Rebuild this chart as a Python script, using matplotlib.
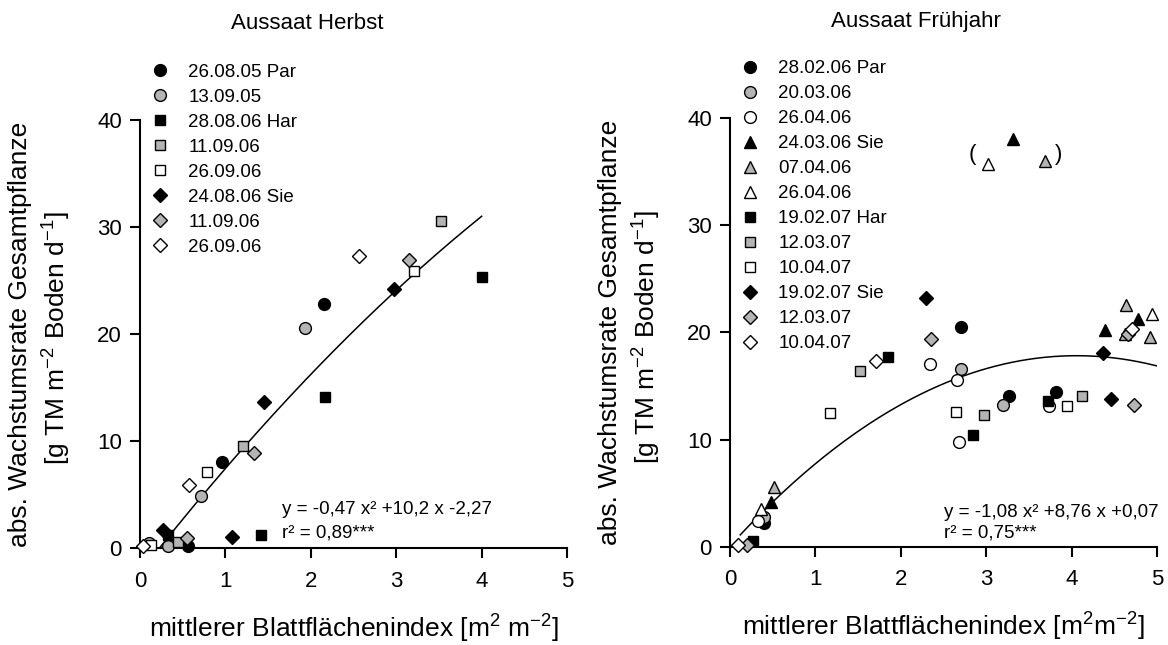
import numpy as np
import matplotlib
matplotlib.use("Agg")
import matplotlib.pyplot as plt

plt.rcParams['font.family'] = ['Liberation Sans', 'DejaVu Sans']
plt.rcParams['mathtext.fontset'] = 'custom'
plt.rcParams['mathtext.rm'] = 'Liberation Sans'
plt.rcParams['mathtext.it'] = 'Liberation Sans:italic'

GRAY = '#b4b4b4'

# ---- Aussaat Herbst ----
herbst_labels = ['26.08.05 Par', '13.09.05', '28.08.06 Har', '11.09.06',
                 '26.09.06', '24.08.06 Sie', '11.09.06', '26.09.06']
herbst_marker = ['o', 'o', 's', 's', 's', 'D', 'D', 'D']
herbst_fill = ['black', GRAY, 'black', GRAY, 'white', 'black', GRAY, 'white']
herbst_x = [
    [0.56, 0.96, 2.15],
    [0.10, 0.33, 0.71, 1.93],
    [0.33, 1.42, 2.17, 4.00],
    [0.45, 1.20, 3.52],
    [0.13, 0.78, 3.21],
    [0.27, 1.08, 1.45, 2.97],
    [0.55, 1.33, 3.15],
    [0.04, 0.57, 2.56],
]
herbst_y = [
    [0.2, 8.1, 22.8],
    [0.45, 0.2, 4.9, 20.6],
    [1.2, 1.2, 14.1, 25.3],
    [0.6, 9.6, 30.6],
    [0.3, 7.1, 25.9],
    [1.7, 1.1, 13.7, 24.2],
    [1.0, 8.9, 26.9],
    [0.2, 5.9, 27.3],
]
herbst_coef = [-0.47, 10.2, -2.27]
herbst_range = [0.23, 4.0]

# ---- Aussaat Frühjahr ----
fj_labels = ['28.02.06 Par', '20.03.06', '26.04.06', '24.03.06 Sie', '07.04.06',
             '26.04.06', '19.02.07 Har', '12.03.07', '10.04.07', '19.02.07 Sie',
             '12.03.07', '10.04.07']
fj_marker = ['o', 'o', 'o', '^', '^', '^', 's', 's', 's', 'D', 'D', 'D']
fj_fill = ['black', GRAY, 'white'] * 4
fj_x = [
    [0.40, 2.70, 3.26, 3.82],
    [0.40, 2.70, 3.20],
    [0.33, 2.34, 2.66, 2.68, 3.73],
    [0.48, 3.31, 4.39, 4.78],
    [0.51, 3.69, 4.62, 4.64, 4.91],
    [0.36, 3.02, 4.94],
    [0.27, 1.85, 2.84, 3.72],
    [1.52, 2.97, 4.12],
    [1.17, 2.64, 3.94],
    [2.29, 4.37, 4.46],
    [0.20, 2.35, 4.66, 4.73],
    [0.09, 1.71, 4.71],
]
fj_y = [
    [2.2, 20.5, 14.1, 14.4],
    [2.8, 16.6, 13.2],
    [2.4, 17.1, 15.6, 9.8, 13.1],
    [4.2, 38.1, 20.2, 21.3],
    [5.6, 36.0, 19.9, 22.6, 19.6],
    [3.5, 35.7, 21.7],
    [0.5, 17.7, 10.4, 13.6],
    [16.4, 12.3, 14.1],
    [12.5, 12.6, 13.1],
    [23.2, 18.1, 13.8],
    [0.2, 19.4, 19.9, 13.2],
    [0.2, 17.3, 20.3],
]
fj_coef = [-1.08, 8.76, 0.07]
fj_range = [0.12, 5.0]

msize = {'o': 8.5, 's': 7.5, 'D': 7.0, '^': 8.5}


def draw_panel(ax, title, labels, markers, fills, xs, ys, coef, xr, eq, r2, eqpos, xlab, legtop):
    for lab, m, f, x, y in zip(labels, markers, fills, xs, ys):
        ax.plot(x, y, linestyle='none', marker=m, ms=msize[m], mfc=f, mec='black',
                mew=1.0, label=lab, clip_on=False, zorder=3)
    xx = np.linspace(xr[0], xr[1], 200)
    ax.plot(xx, np.polyval(coef, xx), color='black', lw=1.1, zorder=2)

    ax.set_xlim(0, 5)
    ax.set_ylim(0, 40)
    ax.set_xticks(range(6))
    ax.set_yticks(range(0, 41, 10))
    for s in ['top', 'right']:
        ax.spines[s].set_visible(False)
    for s in ['left', 'bottom']:
        ax.spines[s].set_linewidth(1.5)
    ax.tick_params(direction='out', length=7, width=1.5, labelsize=16)
    ax.tick_params(axis='x', pad=9)
    ax.tick_params(axis='y', pad=6)

    ax.set_xlabel(xlab, fontsize=19, labelpad=15)
    ax.text(-0.281, 0.5, 'abs. Wachstumsrate Gesamtpflanze', rotation=90,
            fontsize=19, ha='center', va='center', transform=ax.transAxes)
    ax.text(-0.194, 0.49, '[g TM m$^{-2}$ Boden d$^{-1}$]', rotation=90,
            fontsize=19, ha='center', va='center', transform=ax.transAxes)
    ax.text(title[1], 1.226, title[0], fontsize=16, ha='center', va='center',
            transform=ax.transAxes)

    ax.text(eqpos[0], eqpos[1], eq, fontsize=13.5, ha='left', va='center')
    ax.text(eqpos[0], eqpos[2], r2, fontsize=13.5, ha='left', va='center')

    ax.legend(loc='upper left', bbox_to_anchor=(0.025, legtop), frameon=False,
              numpoints=1, handlelength=1.0, handletextpad=1.0,
              labelspacing=0.42, borderpad=0, borderaxespad=0, fontsize=13.5)


fig = plt.figure(figsize=(11.68, 6.45), dpi=100)
ax1 = fig.add_axes([0.1199, 0.1499, 0.3656, 0.664])
ax2 = fig.add_axes([0.625, 0.1524, 0.3658, 0.6642])

draw_panel(ax1, ('Aussaat Herbst', 0.391), herbst_labels, herbst_marker, herbst_fill,
           herbst_x, herbst_y, herbst_coef, herbst_range,
           'y = -0,47 x² +10,2 x -2,27', 'r² = 0,89***', (1.66, 3.6, 1.4),
           'mittlerer Blattflächenindex [m$^{2}$ m$^{-2}$]', 1.132)
draw_panel(ax2, ('Aussaat Frühjahr', 0.435), fj_labels, fj_marker, fj_fill,
           fj_x, fj_y, fj_coef, fj_range,
           'y = -1,08 x² +8,76 x +0,07', 'r² = 0,75***', (2.51, 3.15, 1.27),
           'mittlerer Blattflächenindex [m$^{2}$m$^{-2}$]', 1.136)

# outliers in brackets
ax2.text(2.84, 36.6, '(', fontsize=16, ha='center', va='center')
ax2.text(3.84, 36.6, ')', fontsize=16, ha='center', va='center')

fig.savefig('out.png', dpi=100)
